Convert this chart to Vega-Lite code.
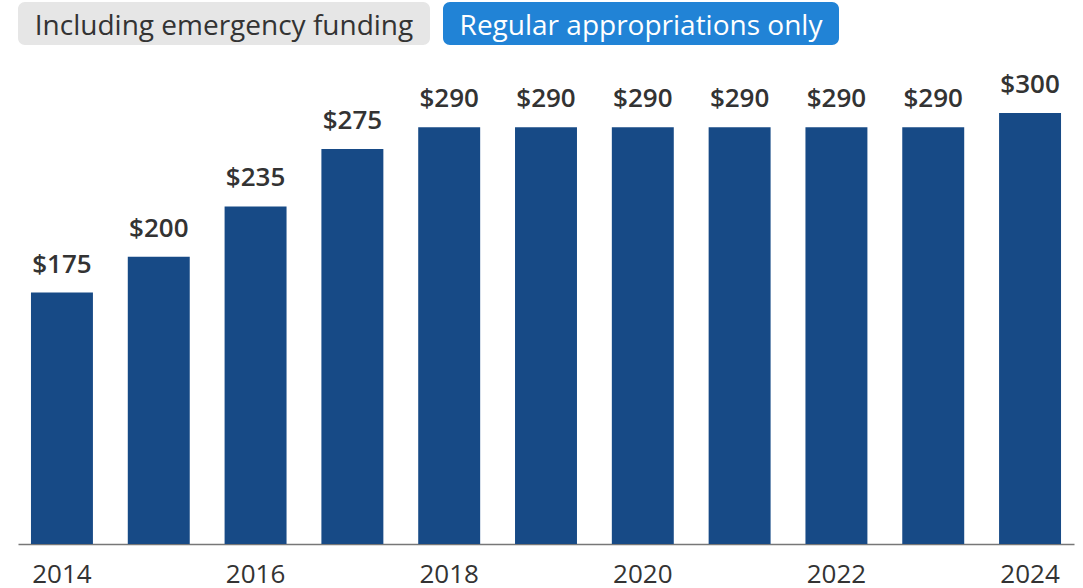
{
  "$schema": "https://vega.github.io/schema/vega-lite/v6.json",
  "background": "white",
  "autosize": {"type": "pad"},
  "padding": {"left": 18, "top": 2, "right": 9, "bottom": 0},
  "bounds": "flush",
  "spacing": 111,
  "config": {"view": {"stroke": null}, "font": "Open Sans"},
  "vconcat": [
    {
      "spacing": 13,
      "hconcat": [
        {
          "width": 412,
          "height": 43,
          "view": {"fill": "#e6e6e6", "cornerRadius": 7, "stroke": null},
          "data": {"values": [{"label": "Including emergency funding"}]},
          "mark": {"type": "text", "fontSize": 28, "color": "#333333", "align": "center", "baseline": "alphabetic", "dy": 11},
          "encoding": {"text": {"field": "label", "type": "nominal"}}
        },
        {
          "width": 396,
          "height": 43,
          "view": {"fill": "#2183d6", "cornerRadius": 7, "stroke": null},
          "data": {"values": [{"label": "Regular appropriations only"}]},
          "mark": {"type": "text", "fontSize": 28, "color": "#ffffff", "align": "center", "baseline": "alphabetic", "dy": 11},
          "encoding": {"text": {"field": "label", "type": "nominal"}}
        }
      ]
    },
    {
      "width": 1056,
      "height": 431,
      "data": {"values": [
        {"year": "2014", "value": 175},
        {"year": "2015", "value": 200},
        {"year": "2016", "value": 235},
        {"year": "2017", "value": 275},
        {"year": "2018", "value": 290},
        {"year": "2019", "value": 290},
        {"year": "2020", "value": 290},
        {"year": "2021", "value": 290},
        {"year": "2022", "value": 290},
        {"year": "2023", "value": 290},
        {"year": "2024", "value": 300}
      ]},
      "encoding": {
        "x": {
          "field": "year", "type": "ordinal",
          "scale": {"paddingInner": 0.36, "paddingOuter": 0.134},
          "axis": {
            "title": null,
            "values": ["2014", "2016", "2018", "2020", "2022", "2024"],
            "ticks": false,
            "labelAngle": 0,
            "labelFontSize": 26,
            "labelFont": "Open Sans",
            "labelColor": "#333333",
            "labelPadding": 17,
            "domainColor": "#777777",
            "domainWidth": 1.5,
            "grid": false
          }
        },
        "y": {
          "field": "value", "type": "quantitative",
          "scale": {"domain": [0, 300], "nice": false},
          "axis": null
        }
      },
      "layer": [
        {"mark": {"type": "bar", "color": "#174a86"}},
        {
          "mark": {"type": "text", "fontSize": 26, "fontWeight": 600, "color": "#333333", "baseline": "alphabetic", "dy": -20},
          "encoding": {"text": {"field": "value", "type": "quantitative", "format": "$d"}}
        }
      ]
    }
  ]
}
